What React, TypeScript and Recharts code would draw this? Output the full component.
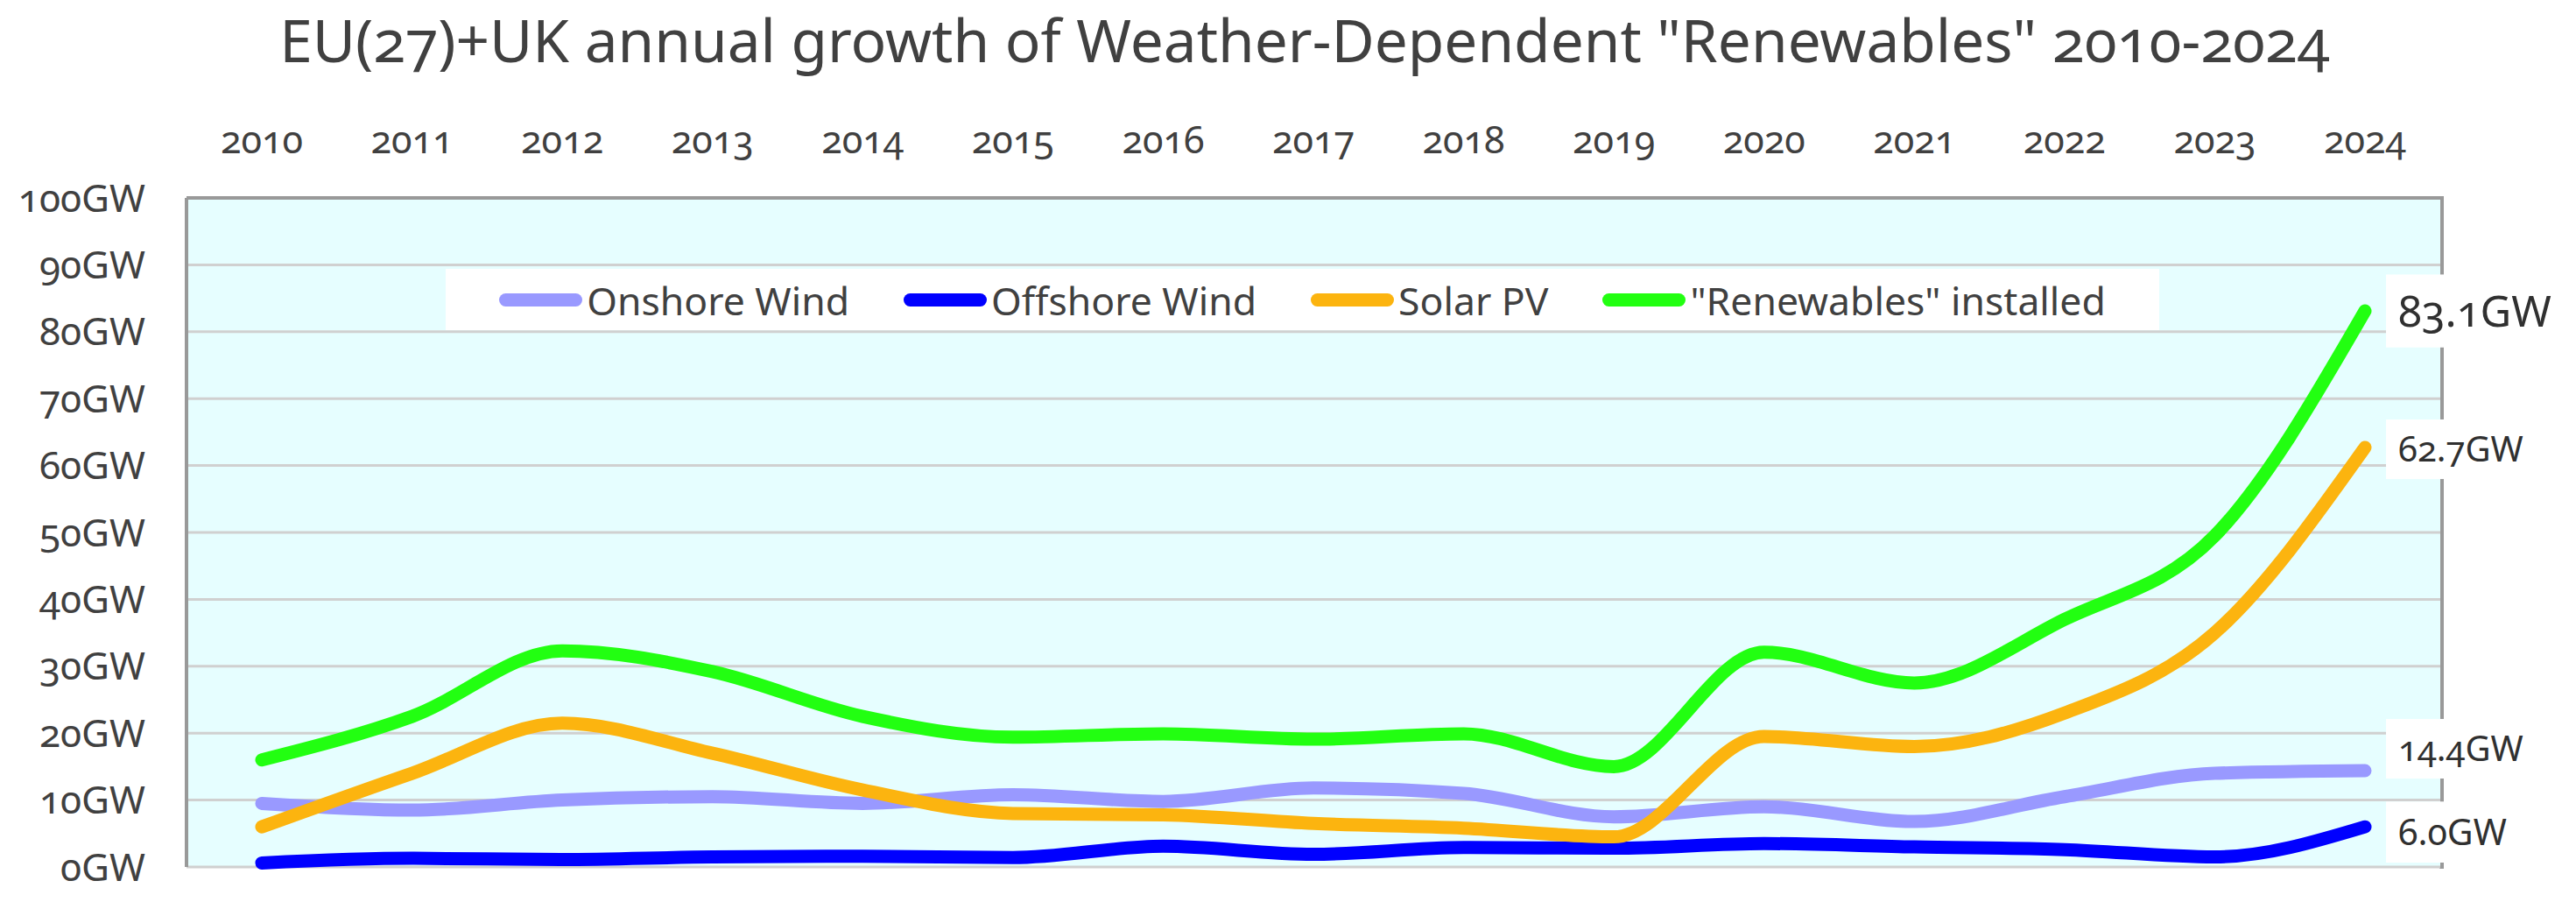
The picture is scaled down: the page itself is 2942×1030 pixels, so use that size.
import React from "react";
import {
  LineChart,
  Line,
  XAxis,
  YAxis,
  CartesianGrid,
  Legend,
  LabelList
} from "recharts";

document.body.style.margin = "0";

const years = ["2010", "2011", "2012", "2013", "2014", "2015", "2016", "2017", "2018", "2019", "2020", "2021", "2022", "2023", "2024"];
const onshoreWind = [9.5, 8.5, 10.0, 10.5, 9.5, 10.8, 9.8, 11.8, 11.0, 7.5, 9.0, 6.8, 10.5, 14.0, 14.4];
const offshoreWind = [0.6, 1.3, 1.1, 1.5, 1.6, 1.4, 3.1, 1.9, 2.9, 2.8, 3.5, 3.0, 2.6, 1.5, 6.0];
const solarPV = [6.0, 14.0, 21.5, 17.0, 11.5, 8.0, 7.8, 6.5, 5.8, 4.5, 19.5, 18.0, 23.0, 35.0, 62.7];
const renewables = [16.0, 22.5, 32.3, 29.2, 22.5, 19.4, 19.9, 19.1, 19.9, 15.0, 32.1, 27.5, 37.0, 49.5, 83.1];
const yTicks = [0, 10, 20, 30, 40, 50, 60, 70, 80, 90, 100];

const data = years.map((year, i) => ({
  year,
  onshore: onshoreWind[i],
  offshore: offshoreWind[i],
  solar: solarPV[i],
  renewables: renewables[i]
}));

// label tweaks for the end-of-line value tags
const series = [
  { key: "onshore", name: "Onshore Wind", color: "#9999FF", labelSize: 40, labelDy: -25 },
  { key: "offshore", name: "Offshore Wind", color: "#0000FF", labelSize: 41, labelDy: 6 },
  { key: "solar", name: "Solar PV", color: "#FCB40F", labelSize: 40, labelDy: 2 },
  { key: "renewables", name: "\"Renewables\" installed", color: "#22FF11", labelSize: 49, labelDy: 0 }
];

const TEXT = "#404040";

function endLabel(size: number, dy: number) {
  return (props: any) => {
    const { x, y, value, index } = props;
    if (index !== years.length - 1) return null;
    const h = size * 1.7;
    const cy = y + dy;
    return (
      <g>
        <rect x={x + 24} y={cy - h / 2} width={215} height={h} fill="#ffffff" />
        <text x={x + 38} y={cy + size * 0.36} fontSize={size} fill="#303030">
          {Number(value).toFixed(1)}GW
        </text>
      </g>
    );
  };
}

function LegendBox() {
  return (
    <div
      style={{
        width: "100%",
        height: "100%",
        background: "#ffffff",
        display: "flex",
        alignItems: "center",
        justifyContent: "center",
        gap: 62,
        fontSize: 44.5,
        color: TEXT,
        fontVariantNumeric: "normal"
      }}
    >
      {series.map((s) => (
        <div key={s.key} style={{ display: "flex", alignItems: "center", gap: 5 }}>
          <div style={{ width: 95, height: 15, borderRadius: 8, background: s.color }} />
          <span style={{ whiteSpace: "nowrap" }}>{s.name}</span>
        </div>
      ))}
    </div>
  );
}

export default function App() {
  return (
    <div
      style={{
        position: "relative",
        width: 2942,
        height: 1030,
        fontFamily: "'Noto Sans', 'Open Sans', sans-serif",
        fontVariantNumeric: "oldstyle-nums",
        background: "#ffffff"
      }}
    >
      {/* right frame edge, sits behind the chart so the value tags cover it */}
      <div
        style={{ position: "absolute", left: 2786, top: 224, width: 5, height: 768, background: "#999999" }}
      />
      <LineChart width={2942} height={1030} data={data} margin={{ top: 0, right: 155, bottom: 40, left: 0 }}>
        <CartesianGrid vertical={false} fill="#E6FEFF" stroke="#D0D0D0" strokeWidth={3} />
        <XAxis
          dataKey="year"
          orientation="top"
          height={226}
          padding={{ left: 86, right: 86 }}
          axisLine={{ stroke: "#999999", strokeWidth: 4 }}
          tickLine={false}
          tickSize={0}
          tickMargin={51}
          tick={{ fill: TEXT, fontSize: 43 }}
        />
        <XAxis
          xAxisId="bottom"
          dataKey="year"
          orientation="bottom"
          height={0}
          padding={{ left: 86, right: 86 }}
          axisLine={{ stroke: "#A8A8A8", strokeWidth: 4 }}
          tickLine={false}
          tick={false}
        />
        <YAxis
          domain={[0, 100]}
          ticks={yTicks}
          width={213}
          axisLine={{ stroke: "#999999", strokeWidth: 4 }}
          tickLine={false}
          tickSize={0}
          tickMargin={47}
          tick={{ fill: TEXT, fontSize: 44 }}
          tickFormatter={(v) => `${v}GW`}
        />
        <Legend
          layout="horizontal"
          verticalAlign="middle"
          align="center"
          content={() => <LegendBox />}
          wrapperStyle={{ position: "absolute", left: 509, top: 307, width: 1957, height: 70 }}
        />
        {series.map((s) => (
          <Line
            key={s.key}
            type="monotone"
            dataKey={s.key}
            name={s.name}
            stroke={s.color}
            strokeWidth={15}
            strokeLinecap="round"
            strokeLinejoin="round"
            dot={false}
            activeDot={false}
            isAnimationActive={false}
          >
            <LabelList dataKey={s.key} content={endLabel(s.labelSize, s.labelDy)} />
          </Line>
        ))}
      </LineChart>
      <svg
        width={2942}
        height={110}
        style={{ position: "absolute", left: 0, top: 0, pointerEvents: "none" }}
      >
        <text x={1490} y={71} textAnchor="middle" fontSize={67.5} fill={TEXT}>
          EU(27)+UK annual growth of Weather-Dependent "Renewables" 2010-2024
        </text>
      </svg>
    </div>
  );
}
